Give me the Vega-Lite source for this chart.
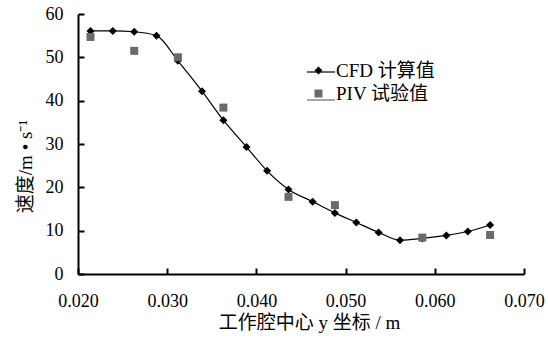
{
  "$schema": "https://vega.github.io/schema/vega-lite/v6.json",
  "width": 446,
  "height": 260,
  "autosize": {"type": "none"},
  "padding": {"left": 78, "top": 14, "right": 24, "bottom": 71},
  "background": "white",
  "config": {
    "view": {"stroke": null},
    "font": "Liberation Serif, Noto Sans CJK SC",
    "axis": {
      "grid": false,
      "domainColor": "black",
      "domainWidth": 2,
      "tickColor": "black",
      "tickWidth": 2,
      "tickSize": -6,
      "labelFont": "Liberation Serif, Noto Sans CJK SC",
      "labelFontSize": 18,
      "labelColor": "black",
      "titleFont": "Liberation Serif, Noto Sans CJK SC",
      "titleFontSize": 19,
      "titleFontWeight": "normal",
      "titleColor": "black",
      "labelFlush": false,
      "labelOverlap": false
    },
    "legend": {
      "title": null,
      "orient": "none",
      "legendY": 47,
      "padding": 0,
      "labelFontSize": 19,
      "labelFont": "Liberation Serif, Noto Sans CJK SC",
      "labelColor": "black",
      "rowPadding": 3
    }
  },
  "data": {
    "values": [
      {"series": "CFD 计算值", "y_pos": 0.0214, "speed": 56.1},
      {"series": "CFD 计算值", "y_pos": 0.0239, "speed": 56.1},
      {"series": "CFD 计算值", "y_pos": 0.0263, "speed": 55.9},
      {"series": "CFD 计算值", "y_pos": 0.0288, "speed": 55.0},
      {"series": "CFD 计算值", "y_pos": 0.0312, "speed": 49.2},
      {"series": "CFD 计算值", "y_pos": 0.0339, "speed": 42.2},
      {"series": "CFD 计算值", "y_pos": 0.0363, "speed": 35.5},
      {"series": "CFD 计算值", "y_pos": 0.0389, "speed": 29.3},
      {"series": "CFD 计算值", "y_pos": 0.0412, "speed": 23.8},
      {"series": "CFD 计算值", "y_pos": 0.0436, "speed": 19.5},
      {"series": "CFD 计算值", "y_pos": 0.0463, "speed": 16.7},
      {"series": "CFD 计算值", "y_pos": 0.0488, "speed": 14.1},
      {"series": "CFD 计算值", "y_pos": 0.0512, "speed": 11.9},
      {"series": "CFD 计算值", "y_pos": 0.0537, "speed": 9.6},
      {"series": "CFD 计算值", "y_pos": 0.0561, "speed": 7.8},
      {"series": "CFD 计算值", "y_pos": 0.0586, "speed": 8.2},
      {"series": "CFD 计算值", "y_pos": 0.0613, "speed": 8.9},
      {"series": "CFD 计算值", "y_pos": 0.0637, "speed": 9.8},
      {"series": "CFD 计算值", "y_pos": 0.0662, "speed": 11.3},
      {"series": "PIV 试验值", "y_pos": 0.0214, "speed": 54.7},
      {"series": "PIV 试验值", "y_pos": 0.0263, "speed": 51.5},
      {"series": "PIV 试验值", "y_pos": 0.0312, "speed": 50.0},
      {"series": "PIV 试验值", "y_pos": 0.0363, "speed": 38.4},
      {"series": "PIV 试验值", "y_pos": 0.0436, "speed": 17.8},
      {"series": "PIV 试验值", "y_pos": 0.0488, "speed": 15.9},
      {"series": "PIV 试验值", "y_pos": 0.0586, "speed": 8.4},
      {"series": "PIV 试验值", "y_pos": 0.0662, "speed": 9.0}
    ]
  },
  "encoding": {
    "x": {
      "field": "y_pos",
      "type": "quantitative",
      "scale": {"domain": [0.02, 0.07], "nice": false, "zero": false},
      "axis": {
        "values": [0.02, 0.03, 0.04, 0.05, 0.06, 0.07],
        "format": ".3f",
        "title": "工作腔中心 y 坐标 / m",
        "labelPadding": 24,
        "titlePadding": 3,
        "titleX": 231
      }
    },
    "y": {
      "field": "speed",
      "type": "quantitative",
      "scale": {"domain": [0, 60], "nice": false},
      "axis": {
        "values": [0, 10, 20, 30, 40, 50, 60],
        "title": "速度/m • s⁻¹",
        "labelPadding": 21,
        "titlePadding": 10,
        "titleY": 152
      }
    }
  },
  "layer": [
    {
      "transform": [{"filter": "datum.series === 'CFD 计算值'"}],
      "mark": {"type": "line", "strokeWidth": 1.2, "interpolate": "monotone"},
      "encoding": {
        "stroke": {
          "field": "series",
          "type": "nominal",
          "scale": {"domain": ["CFD 计算值", "PIV 试验值", "-"], "range": ["black", "#6a6a6a", "white"]},
          "legend": {
            "values": ["CFD 计算值", "PIV 试验值"],
            "legendX": 228,
            "legendY": 43,
            "symbolType": "stroke",
            "symbolSize": 784,
            "symbolStrokeWidth": 1.2,
            "labelExpr": "''",
            "labelOffset": 0
          }
        }
      }
    },
    {
      "mark": {"type": "point", "filled": true, "size": 64, "opacity": 1},
      "encoding": {
        "color": {
          "field": "series",
          "type": "nominal",
          "scale": {"domain": ["CFD 计算值", "PIV 试验值"], "range": ["black", "#6a6a6a"]},
          "legend": {
            "legendX": 231,
            "symbolSize": 64,
            "labelOffset": 8
          }
        },
        "shape": {
          "field": "series",
          "type": "nominal",
          "scale": {"domain": ["CFD 计算值", "PIV 试验值"], "range": ["diamond", "square"]},
          "legend": {
            "legendX": 231,
            "symbolSize": 64,
            "labelOffset": 8
          }
        }
      }
    }
  ]
}
